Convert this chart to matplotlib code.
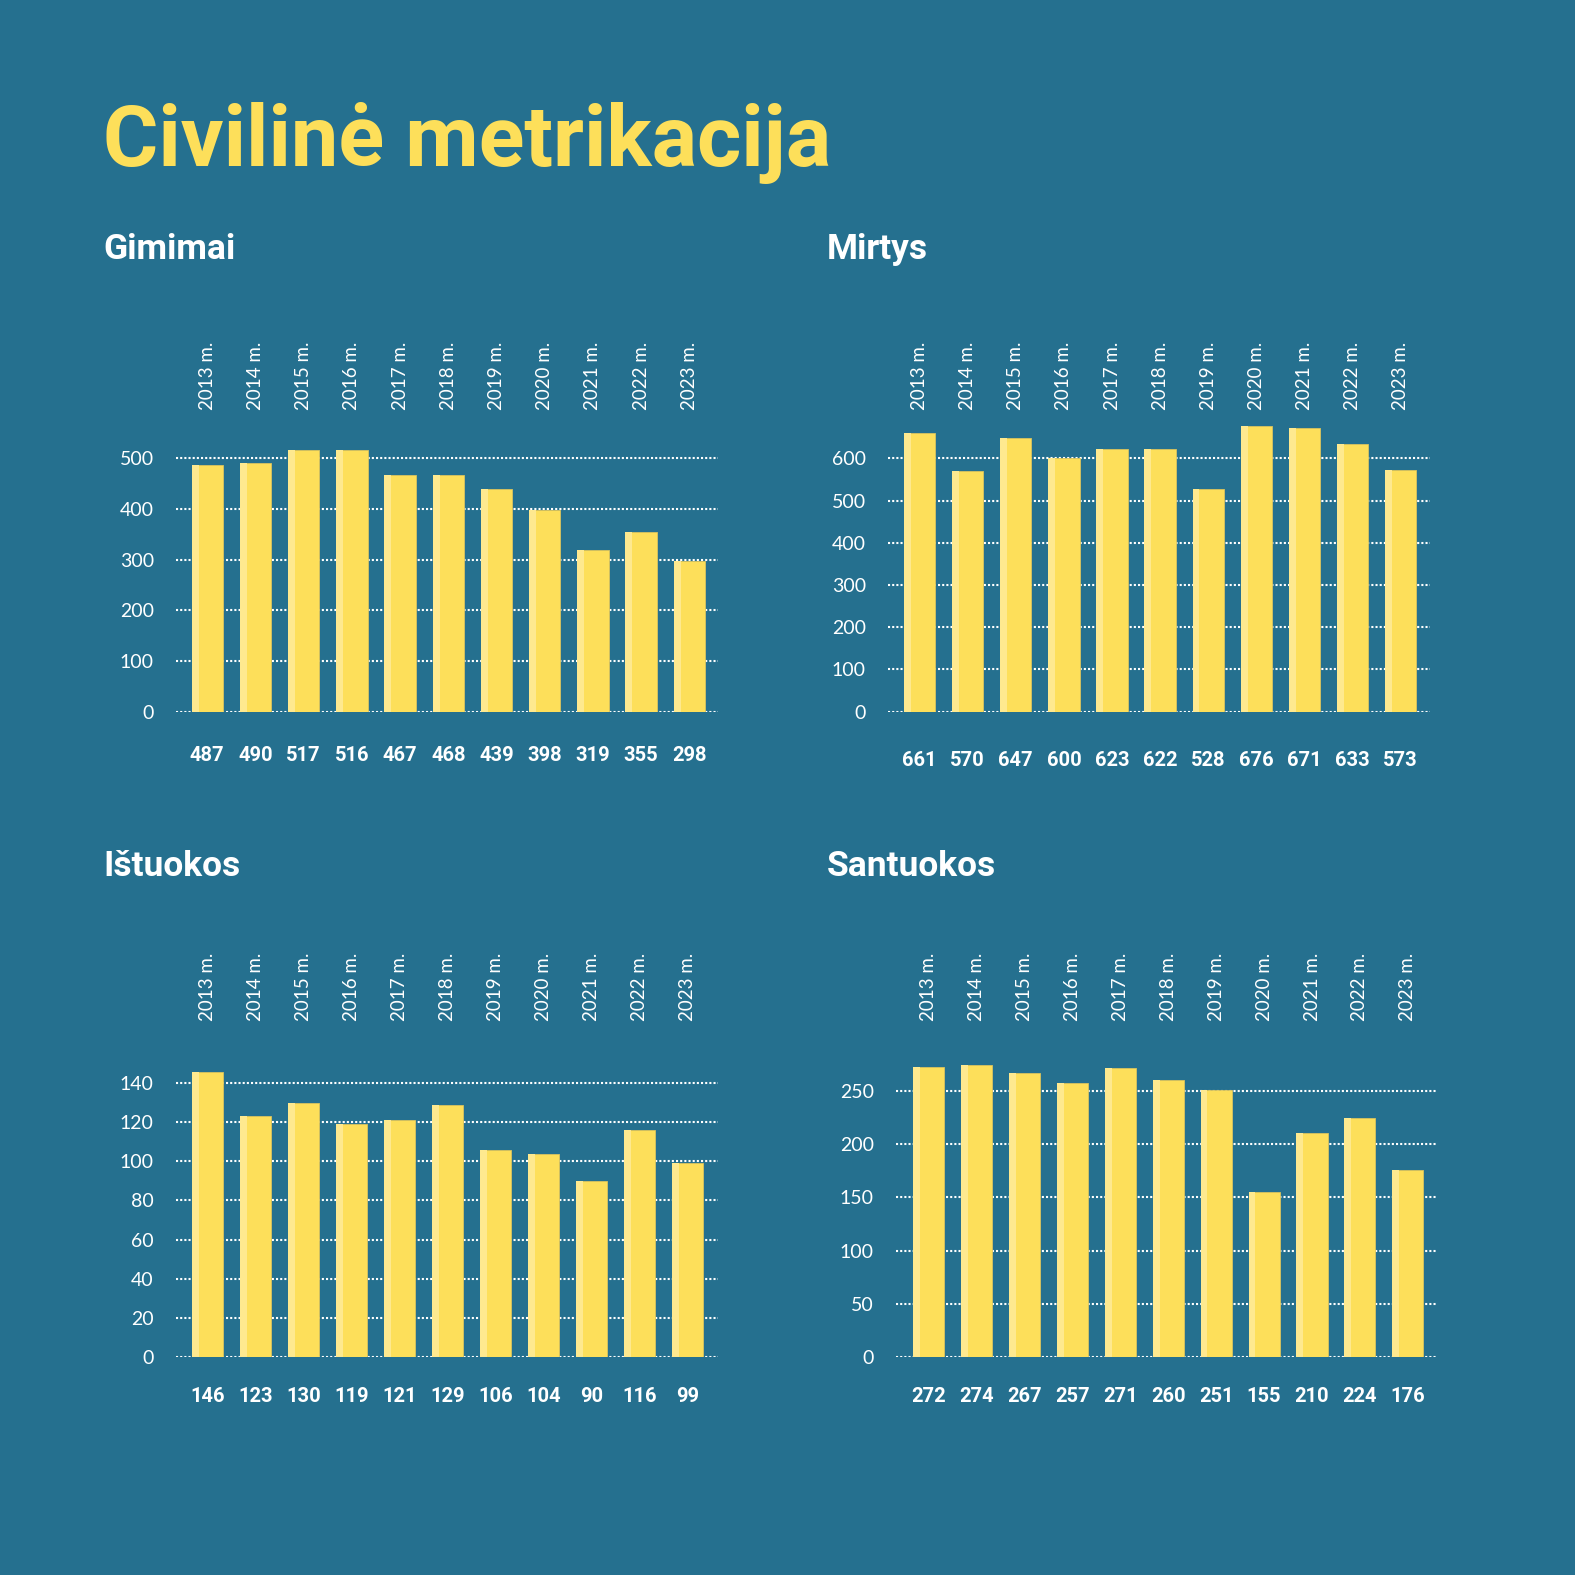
import matplotlib.pyplot as plt
from matplotlib.transforms import blended_transform_factory

# data
years = ['2013 m.', '2014 m.', '2015 m.', '2016 m.', '2017 m.', '2018 m.',
         '2019 m.', '2020 m.', '2021 m.', '2022 m.', '2023 m.']
gimimai = [487, 490, 517, 516, 467, 468, 439, 398, 319, 355, 298]
mirtys = [661, 570, 647, 600, 623, 622, 528, 676, 671, 633, 573]
istuokos = [146, 123, 130, 119, 121, 129, 106, 104, 90, 116, 99]
santuokos = [272, 274, 267, 257, 271, 260, 251, 155, 210, 224, 176]

gimimai_ticks = [0, 100, 200, 300, 400, 500]
mirtys_ticks = [0, 100, 200, 300, 400, 500, 600]
istuokos_ticks = [0, 20, 40, 60, 80, 100, 120, 140]
santuokos_ticks = [0, 50, 100, 150, 200, 250]

BG = '#25708f'
YELLOW = '#fddf5a'
LIGHT = '#fee98f'
W = 1575

BOLD_FONT = 'Roboto'
LIGHT_FONT = 'Lato'

fig = plt.figure(figsize=(15.75, 15.75), dpi=100, facecolor=BG)


def panel(title, values, ticks, ymax, left, right, zero, ref_px, x_first, x_step,
          title_x, title_y, year_bottom, value_y):
    # pixel geometry
    per_unit = (zero - ref_px) / ticks[-1]
    top = zero - ymax * per_unit
    ax = fig.add_axes([left / W, 1 - zero / W, (right - left) / W, (zero - top) / W])
    ax.set_facecolor('none')
    ax.set_xlim((left - x_first) / x_step, (right - x_first) / x_step)
    ax.set_ylim(0, ymax)

    x = list(range(len(values)))
    bw = 0.65
    ax.bar(x, values, width=bw, color=YELLOW, edgecolor='#d9c35e', linewidth=0.6, zorder=3)
    ax.bar([i - bw / 2 for i in x], values, width=bw * 0.22, align='edge',
           color=LIGHT, linewidth=0, zorder=4)

    ax.set_yticks(ticks)
    ax.set_yticklabels([str(t) for t in ticks], family=LIGHT_FONT, fontweight='normal',
                       fontsize=14, color='white')
    ax.set_xticks([])
    ax.tick_params(axis='y', length=0, pad=16)
    for s in ax.spines.values():
        s.set_visible(False)
    ax.yaxis.grid(True, color='white', linestyle=(0, (1, 1)), linewidth=1.5, zorder=1)
    ax.set_axisbelow(True)

    tr = blended_transform_factory(ax.transData, fig.transFigure)
    for i, (yr, v) in enumerate(zip(years, values)):
        ax.text(i, 1 - year_bottom / W, yr, transform=tr, rotation=90, ha='center',
                va='bottom', color='white', family=LIGHT_FONT, fontweight='normal',
                fontsize=13.5)
        ax.text(i, 1 - value_y / W, str(v), transform=tr, ha='center', va='center',
                color='white', family=BOLD_FONT, fontweight='bold', fontsize=14.5)

    fig.text(title_x / W, 1 - title_y / W, title, ha='left', va='baseline',
             color='white', family=BOLD_FONT, fontweight='bold', fontsize=25.5)
    return ax


panel('Gimimai', gimimai, gimimai_ticks, 550, 176, 718, 711.7, 458.3, 207.3, 48.2,
      103, 259, 410, 755)
panel('Mirtys', mirtys, mirtys_ticks, 700, 888, 1430, 711.7, 458.3, 919.6, 48.1,
      827, 259, 410, 760)
panel('Ištuokos', istuokos, istuokos_ticks, 155, 176, 718, 1356.7, 1083.3, 207.6, 48.0,
      103, 876, 1021, 1396)
panel('Santuokos', santuokos, santuokos_ticks, 285, 896, 1436, 1357.3, 1090.7, 928.8, 47.9,
      827, 876, 1021, 1396)

fig.text(103 / W, 1 - 166 / W, 'Civilinė metrikacija', ha='left', va='baseline',
         color=YELLOW, family=BOLD_FONT, fontweight='bold', fontsize=61)

fig.savefig('out.png', dpi=100, facecolor=BG)
